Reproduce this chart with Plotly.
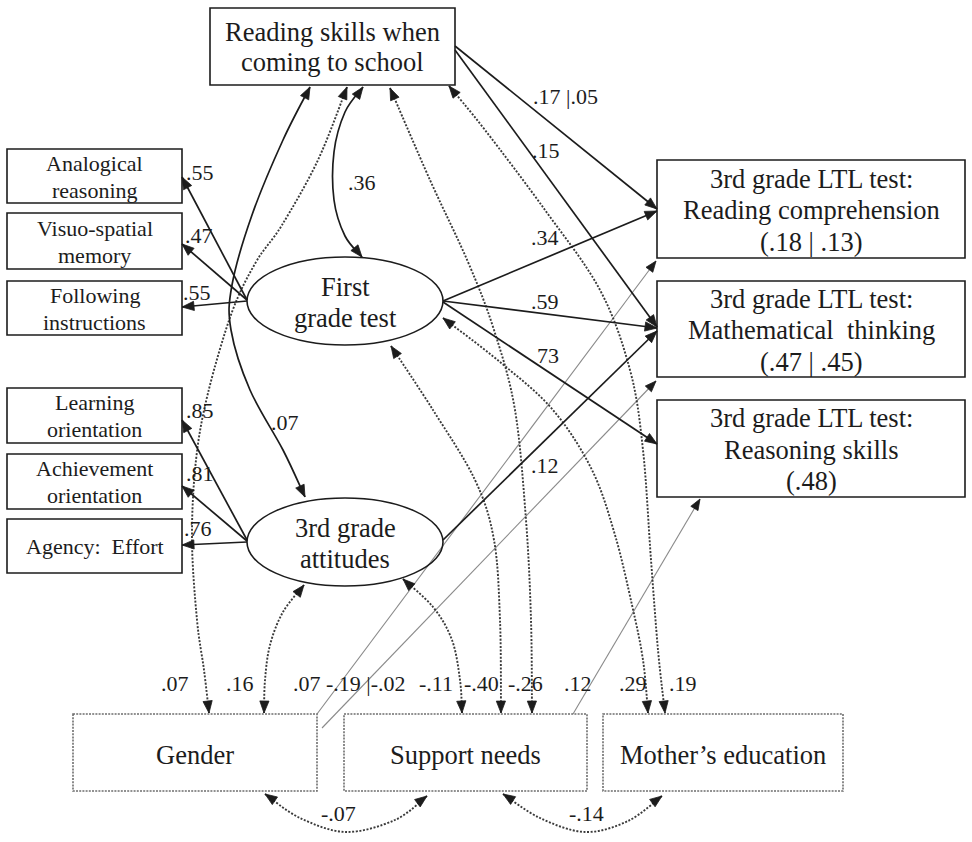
import numpy as np
import plotly.graph_objects as go

# ---------------- labels and coefficients ----------------
ENTRY_SKILL = "Reading skills when<br>coming to school"
FIRST_GRADE_INDICATORS = ["Analogical<br>reasoning", "Visuo-spatial<br>memory", "Following<br>instructions"]
ATTITUDE_INDICATORS = ["Learning<br>orientation", "Achievement<br>orientation", "Agency:  Effort"]
LATENTS = ["First<br>grade test", "3rd grade<br>attitudes"]
OUTCOMES = ["Reading comprehension", "Mathematical  thinking", "Reasoning skills"]
OUTCOME_R2 = ["(.18 | .13)", "(.47 | .45)", "(.48)"]
COVARIATES = ["Gender", "Support needs", "Mother\u2019s education"]

FIRST_GRADE_LOADINGS = [".55", ".47", ".55"]
ATTITUDE_LOADINGS = [".85", ".81", ".76"]
STRUCTURAL_PATHS = [".17 |.05", ".15", ".34", ".59", "73", ".12"]
LATENT_COVARIANCES = [".36", ".07"]
COVARIATE_PATHS = [".07", ".16", ".07", "-.19 |-.02", "-.11", "-.40", "-.26", ".12", ".29", ".19"]
COVARIATE_COVARIANCES = ["-.07", "-.14"]

# ---------------- canvas ----------------
W, H = 972, 842
SERIF = "Liberation Serif"
INK = "#1c1c1c"
DOT = "#3a3a3a"
THIN = "#8a8a8a"
BIG, SMALL, NUM = 26.5, 22, 22
BIG_LEAD, SMALL_LEAD = 31, 27

shapes, annotations = [], []


def text(x, y, s, size, lead=0, color=INK):
    """Centre a (possibly multi-line) label on (x, y) with a fixed line pitch."""
    lines = s.split("<br>")
    top = y - lead * (len(lines) - 1) / 2.0
    for i, ln in enumerate(lines):
        annotations.append(dict(x=x, y=top + i * lead, xref="x", yref="y", text=ln, showarrow=False,
                                font=dict(family=SERIF, size=size, color=color),
                                xanchor="center", yanchor="middle", align="center"))


def rect(x0, y0, x1, y1, dotted=False):
    line = dict(color="#6e6e6e", width=1.6, dash="2px,1.2px") if dotted else dict(color=INK, width=1.6)
    shapes.append(dict(type="rect", xref="x", yref="y", x0=x0, y0=y0, x1=x1, y1=y1,
                       line=line, fillcolor="rgba(0,0,0,0)"))


def ellipse(cx, cy, rx, ry):
    shapes.append(dict(type="circle", xref="x", yref="y", x0=cx - rx, x1=cx + rx,
                       y0=cy - ry, y1=cy + ry, line=dict(color=INK, width=1.6)))


def arrowhead(tip, direction, length=12, half=4.6, color=INK):
    tip = np.asarray(tip, float)
    u = np.asarray(direction, float)
    u = u / np.hypot(*u)
    n = np.array([-u[1], u[0]])
    base = tip - u * length
    a, b = base + n * half, base - n * half
    shapes.append(dict(type="path", xref="x", yref="y",
                       path=f"M{tip[0]:.1f},{tip[1]:.1f} L{a[0]:.1f},{a[1]:.1f} L{b[0]:.1f},{b[1]:.1f} Z",
                       fillcolor=color, line=dict(color=color, width=0.8)))


def smooth(points):
    p = np.asarray(points, float)
    ext = np.vstack([p[0], p, p[-1]])
    d = f"M{p[0][0]:.1f},{p[0][1]:.1f}"
    for i in range(1, len(ext) - 2):
        a, b, c, e = ext[i - 1], ext[i], ext[i + 1], ext[i + 2]
        c1 = b + (c - a) / 6.0
        c2 = c - (e - b) / 6.0
        d += f" C{c1[0]:.1f},{c1[1]:.1f} {c2[0]:.1f},{c2[1]:.1f} {c[0]:.1f},{c[1]:.1f}"
    return d


def line_style(kind):
    if kind == "solid":
        return dict(color=INK, width=1.7)
    if kind == "dot":
        return dict(color=DOT, width=1.9, dash="2px,1.6px")
    return dict(color=THIN, width=1.1)


def straight(p0, p1, kind="solid"):
    shapes.append(dict(type="line", xref="x", yref="y", x0=p0[0], y0=p0[1], x1=p1[0], y1=p1[1],
                       line=line_style(kind)))
    arrowhead(p1, np.subtract(p1, p0), length=11 if kind == "thin" else 12,
              half=4.2 if kind == "thin" else 4.6)


def curve(points, kind="dot", both=True):
    shapes.append(dict(type="path", xref="x", yref="y", path=smooth(points), line=line_style(kind)))
    arrowhead(points[-1], np.subtract(points[-1], points[-2]))
    if both:
        arrowhead(points[0], np.subtract(points[0], points[1]))


# ---------------- node layout ----------------
entry_box = (210, 8, 455, 85)
left_boxes = [(7, 149, 182, 203), (7, 213, 182, 269), (7, 281, 182, 335),
              (7, 388, 182, 443), (7, 454, 182, 509), (7, 519, 182, 573)]
latent_centres = [(345, 301), (345, 542)]
RX, RY = 98, 44
outcome_boxes = [(657, 160, 965, 258), (657, 281, 965, 377), (657, 400, 965, 497)]
covariate_boxes = [(73, 714, 317, 791), (344, 714, 587, 791), (603, 714, 843, 791)]

# ---------------- edges ----------------
# loadings: latent -> indicator
loading_edges = [((247, 300), (182, 177), (200, 172)),
                 ((247, 300), (182, 244), (199, 235)),
                 ((247, 301), (182, 307), (197, 292)),
                 ((247, 540), (182, 420), (200, 410)),
                 ((247, 541), (182, 486), (200, 473)),
                 ((247, 542), (182, 545), (198, 528))]
# structural regressions
structural_edges = [((455, 46), (657, 209), (565, 96)),
                    ((455, 50), (657, 327), (546, 150)),
                    ((443, 301), (657, 211), (545, 237)),
                    ((443, 301), (657, 328), (545, 301)),
                    ((443, 302), (657, 444), (548, 355)),
                    ((443, 540), (657, 331), (545, 465))]
# latent covariances (solid, two-headed)
latent_cov_edges = [
    ([(363, 87), (345, 112), (334, 152), (334, 200), (345, 236), (362, 257)], (362, 182)),
    ([(310, 87), (283, 140), (252, 215), (232, 285), (231, 330), (250, 390), (283, 450), (305, 497)], (285, 422)),
]
# covariate links, listed in the order of COVARIATE_PATHS
covariate_edges = [
    ("dot", [(347, 87), (318, 160), (282, 225), (256, 262), (232, 312), (208, 393), (196, 460),
             (192, 540), (197, 620), (204, 670), (209, 713)], (175, 683)),
    ("dot", [(304, 585), (283, 612), (270, 645), (265, 680), (264, 713)], (240, 683)),
    ("thin", [(317, 714), (656, 261)], (307, 683)),
    ("thin", [(322, 728), (656, 381)], (366, 683)),
    ("dot", [(403, 579), (433, 607), (452, 640), (460, 680), (462, 713)], (436, 683)),
    ("dot", [(391, 346), (433, 410), (475, 480), (494, 540), (500, 620), (501, 713)], (481, 683)),
    ("dot", [(390, 88), (430, 180), (468, 262), (494, 330), (515, 410), (526, 520), (531, 620),
             (532, 713)], (525, 683)),
    ("thin", [(573, 714), (700, 499)], (578, 683)),
    ("dot", [(443, 318), (500, 362), (553, 410), (592, 470), (615, 535), (632, 605), (643, 660),
             (648, 713)], (633, 683)),
    ("dot", [(449, 86), (485, 130), (545, 210), (600, 290), (630, 370), (643, 450), (651, 560),
             (658, 650), (665, 713)], (683, 683)),
]
covariate_cov_edges = [
    ([(265, 794), (300, 818), (346, 832), (395, 820), (427, 796)], (338, 813)),
    ([(503, 794), (540, 818), (585, 832), (628, 821), (662, 796)], (586, 813)),
]

# ---------------- draw ----------------
for kind, pts, pos in covariate_edges:
    if kind == "thin":
        straight(pts[0], pts[1], "thin")
    else:
        curve(pts, "dot")
for (pts, pos) in covariate_cov_edges:
    curve(pts, "dot")
for (pts, pos) in latent_cov_edges:
    curve(pts, "solid")
for p0, p1, pos in loading_edges + structural_edges:
    straight(p0, p1, "solid")

rect(*entry_box)
text((entry_box[0] + entry_box[2]) / 2, 47, ENTRY_SKILL, BIG, BIG_LEAD - 1)

for (x0, y0, x1, y1), name in zip(left_boxes, FIRST_GRADE_INDICATORS + ATTITUDE_INDICATORS):
    rect(x0, y0, x1, y1)
    text((x0 + x1) / 2, (y0 + y1) / 2 + 0.5, name, SMALL, SMALL_LEAD)

for (cx, cy), name in zip(latent_centres, LATENTS):
    ellipse(cx, cy, RX, RY)
    text(cx, cy + 1.5, name, BIG, BIG_LEAD)

for (x0, y0, x1, y1), name, r2 in zip(outcome_boxes, OUTCOMES, OUTCOME_R2):
    rect(x0, y0, x1, y1)
    text((x0 + x1) / 2, (y0 + y1) / 2 + 1, f"3rd grade LTL test:<br>{name}<br>{r2}", BIG, BIG_LEAD + 0.5)

for (x0, y0, x1, y1), name in zip(covariate_boxes, COVARIATES):
    rect(x0, y0, x1, y1, dotted=True)
    text((x0 + x1) / 2, (y0 + y1) / 2 + 2, name, BIG)

# coefficient labels
for (p0, p1, pos), lab in zip(loading_edges, FIRST_GRADE_LOADINGS + ATTITUDE_LOADINGS):
    text(pos[0], pos[1], lab, NUM)
for (p0, p1, pos), lab in zip(structural_edges, STRUCTURAL_PATHS):
    text(pos[0], pos[1], lab, NUM)
for (pts, pos), lab in zip(latent_cov_edges, LATENT_COVARIANCES):
    text(pos[0], pos[1], lab, NUM)
for (kind, pts, pos), lab in zip(covariate_edges, COVARIATE_PATHS):
    text(pos[0], pos[1], lab, NUM)
for (pts, pos), lab in zip(covariate_cov_edges, COVARIATE_COVARIANCES):
    text(pos[0], pos[1], lab, NUM)

fig = go.Figure()
fig.update_layout(
    width=W, height=H, margin=dict(l=0, r=0, t=0, b=0),
    paper_bgcolor="white", plot_bgcolor="white", showlegend=False,
    xaxis=dict(range=[0, W], visible=False, fixedrange=True),
    yaxis=dict(range=[H, 0], visible=False, fixedrange=True),
    shapes=shapes, annotations=annotations,
)
fig.write_html("out.html", config={"displayModeBar": False})
